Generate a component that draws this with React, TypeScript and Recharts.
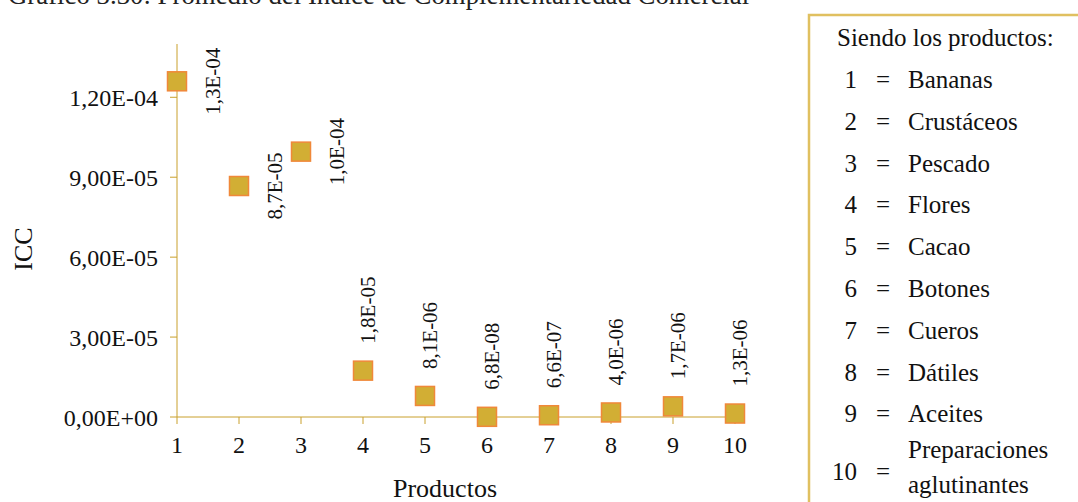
import React from "react";
import { ScatterChart, Scatter, XAxis, YAxis } from "recharts";

const productos = [1, 2, 3, 4, 5, 6, 7, 8, 9, 10];
const icc = [1.26e-4, 8.67e-5, 9.96e-5, 1.74e-5, 7.9e-6, 6.8e-8, 6.6e-7, 1.7e-6, 4.0e-6, 1.3e-6];
const etiquetas = ["1,3E-04", "8,7E-05", "1,0E-04", "1,8E-05", "8,1E-06", "6,8E-08", "6,6E-07", "4,0E-06", "1,7E-06", "1,3E-06"];
const yTicks = [0, 3e-5, 6e-5, 9e-5, 1.2e-4];
const nombres = ["Bananas", "Crustáceos", "Pescado", "Flores", "Cacao", "Botones", "Cueros", "Dátiles", "Aceites"];
const ultimo = ["Preparaciones", "aglutinantes"];

const titulo = "Gráfico 3.30: Promedio del Índice de Complementariedad Comercial";

const SERIF = '"Liberation Serif", "Times New Roman", serif';
const GOLD = "#C9A02C";

const data = productos.map((p, i) => ({ x: p, y: icc[i], label: etiquetas[i] }));

// 1.2e-4 -> "1,20E-04"
function sci(v: number) {
  if (v === 0) return "0,00E+00";
  const e = Math.floor(Math.log10(Math.abs(v)) + 1e-9);
  const m = (v / Math.pow(10, e)).toFixed(2).replace(".", ",");
  const sign = e < 0 ? "-" : "+";
  return `${m}E${sign}${String(Math.abs(e)).padStart(2, "0")}`;
}

function Punto(props: any) {
  const { cx, cy, payload, index } = props;
  const s = 19;
  let label;
  if (index < 3) {
    // first three: label to the right of the marker
    const lx = cx + 43;
    label = (
      <text x={lx} y={cy} transform={`rotate(-90 ${lx} ${cy})`} textAnchor="middle"
        fontFamily={SERIF} fontSize={21} fill="#111">{payload.label}</text>
    );
  } else {
    const lx = cx + 12;
    const ly = cy - 27;
    label = (
      <text x={lx} y={ly} transform={`rotate(-90 ${lx} ${ly})`} textAnchor="start"
        fontFamily={SERIF} fontSize={21} fill="#111">{payload.label}</text>
    );
  }
  return (
    <g>
      <rect x={cx - s / 2} y={cy - s / 2} width={s} height={s} fill="#D2AE34" stroke="#F0883A" strokeWidth={1.5} />
      {label}
    </g>
  );
}

export default function App() {
  return (
    <div style={{ position: "fixed", left: 0, top: 0, width: 1078, height: 502, background: "#fff" }}>
      <ScatterChart width={1078} height={502} margin={{ top: 44, right: 343, bottom: 0, left: 0 }}>
        <XAxis type="number" dataKey="x" domain={[1, 10]} ticks={productos} height={85}
          stroke={GOLD} tickSize={7} tickMargin={12}
          tick={{ fill: "#111", fontFamily: SERIF, fontSize: 24 }}
          label={{
            content: () => (
              <text x={445} y={497} textAnchor="middle" fontFamily={SERIF} fontSize={26} fill="#111">Productos</text>
            ),
          }} />
        <YAxis type="number" dataKey="y" domain={[0, 1.4e-4]} ticks={yTicks} width={177}
          stroke={GOLD} tickSize={7} tickMargin={12} tickFormatter={sci}
          tick={{ fill: "#111", fontFamily: SERIF, fontSize: 24 }}
          label={{
            content: () => (
              <text x={32} y={249} transform="rotate(-90 32 249)" textAnchor="middle" fontFamily={SERIF} fontSize={26} fill="#111">ICC</text>
            ),
          }} />
        <Scatter data={data} shape={<Punto />} isAnimationActive={false} />
      </ScatterChart>
      <svg width={1078} height={502} style={{ position: "absolute", left: 0, top: 0, pointerEvents: "none" }}>
        <text x={8} y={3.5} fontFamily={SERIF} fontSize={26.8} fill="#222">{titulo}</text>
        <rect x={809} y={15} width={300} height={500} fill="none" stroke="#E0C060" strokeWidth={2.5} />
        <text x={837} y={46} fontFamily={SERIF} fontSize={25} fill="#111">Siendo los productos:</text>
        {nombres.map((n, i) => {
          const y = 88 + i * 41.8;
          return (
            <g key={n}>
              <text x={857} y={y} textAnchor="end" fontFamily={SERIF} fontSize={25} fill="#111">{i + 1}</text>
              <text x={883} y={y} textAnchor="middle" fontFamily={SERIF} fontSize={25} fill="#111">=</text>
              <text x={908} y={y} fontFamily={SERIF} fontSize={25} fill="#111">{n}</text>
            </g>
          );
        })}
        <text x={857} y={480} textAnchor="end" fontFamily={SERIF} fontSize={25} fill="#111">10</text>
        <text x={883} y={480} textAnchor="middle" fontFamily={SERIF} fontSize={25} fill="#111">=</text>
        <text x={908} y={458} fontFamily={SERIF} fontSize={25} fill="#111">{ultimo[0]}</text>
        <text x={908} y={493} fontFamily={SERIF} fontSize={25} fill="#111">{ultimo[1]}</text>
      </svg>
    </div>
  );
}
